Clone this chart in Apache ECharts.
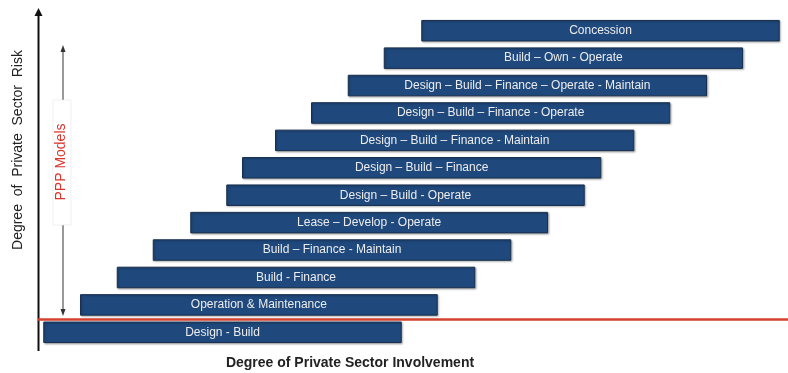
<!DOCTYPE html>
<html>
<head>
<meta charset="utf-8">
<script src="https://cdn.jsdelivr.net/npm/echarts@6/dist/echarts.min.js"></script>
<style>
html,body{margin:0;padding:0;background:#fff;}
#chart{width:788px;height:373px;}
</style>
</head>
<body>
<div id="chart"></div>
<script>
// PPP models, ordered bottom to top
const categories = [
  'Design - Build',
  'Operation & Maintenance',
  'Build - Finance',
  'Build – Finance - Maintain',
  'Lease – Develop - Operate',
  'Design – Build - Operate',
  'Design – Build – Finance',
  'Design – Build – Finance - Maintain',
  'Design – Build – Finance - Operate',
  'Design – Build – Finance – Operate - Maintain',
  'Build – Own - Operate',
  'Concession'
];
// degree of private sector involvement (0-100 scale): start and end of each model's range
const starts = [0.7, 5.6, 10.5, 15.3, 20.3, 25.1, 27.2, 31.6, 36.4, 41.3, 46.1, 51.1];
const ends   = [48.5, 53.3, 58.3, 63.1, 68.0, 72.9, 75.1, 79.5, 84.3, 89.2, 94.0, 98.9];

const spans = ends.map((e, i) => +(e - starts[i]).toFixed(1));

const chart = echarts.init(document.getElementById('chart'), null, {renderer: 'canvas'});
const FONT = '"Liberation Sans", Arial, sans-serif';

chart.setOption({
  animation: false,
  backgroundColor: '#ffffff',
  grid: {left: 38, right: 0, top: 17, height: 329},
  xAxis: {type: 'value', min: 0, max: 100, show: false},
  yAxis: {type: 'category', data: categories, show: false},
  series: [
    {
      type: 'bar', stack: 'a', data: starts, barWidth: 21.5,
      itemStyle: {color: 'transparent'}, silent: true
    },
    {
      type: 'bar', stack: 'a', data: spans, barWidth: 21.5,
      itemStyle: {
        color: '#1f497d', borderColor: '#18304f', borderWidth: 1,
        shadowColor: 'rgba(0,0,0,0.3)', shadowBlur: 2, shadowOffsetX: 1, shadowOffsetY: 1
      },
      label: {
        show: true, position: 'inside',
        formatter: p => p.name,
        color: '#ececec', fontSize: 12, fontFamily: FONT
      }
    }
  ],
  graphic: [
    // left axis with arrow
    {type: 'line', shape: {x1: 38.5, y1: 351, x2: 38.5, y2: 14}, style: {stroke: '#111', lineWidth: 2}},
    {type: 'polygon', shape: {points: [[38.5, 8], [34.5, 16], [42.5, 16]]}, style: {fill: '#111'}},
    // red line
    {type: 'line', shape: {x1: 38, y1: 319.5, x2: 788, y2: 319.5}, style: {stroke: '#d5412f', lineWidth: 2.5}},
    // PPP double arrow
    {type: 'line', shape: {x1: 63, y1: 50, x2: 63, y2: 312}, style: {stroke: '#555', lineWidth: 1.2}},
    {type: 'polygon', shape: {points: [[63, 45], [60.5, 52], [65.5, 52]]}, style: {fill: '#333'}},
    {type: 'polygon', shape: {points: [[63, 316], [60.5, 309], [65.5, 309]]}, style: {fill: '#333'}},
    {type: 'rect', shape: {x: 53, y: 100, width: 18, height: 125}, style: {fill: '#fff', stroke: '#e6e6e6', lineWidth: 0.6}},
    {type: 'text', x: 61, y: 162, rotation: Math.PI / 2,
      style: {text: 'PPP Models', fill: '#d9342b', font: '14px ' + FONT, textAlign: 'center', textVerticalAlign: 'middle'}},
    // axis titles
    {type: 'text', x: 18, y: 150, rotation: Math.PI / 2,
      style: {text: 'Degree  of  Private  Sector  Risk', fill: '#222', font: '14px ' + FONT, textAlign: 'center', textVerticalAlign: 'middle'}},
    {type: 'text', x: 350, y: 363,
      style: {text: 'Degree of Private Sector Involvement', fill: '#222', font: 'bold 14px ' + FONT, textAlign: 'center', textVerticalAlign: 'middle'}}
  ]
});
</script>
</body>
</html>
